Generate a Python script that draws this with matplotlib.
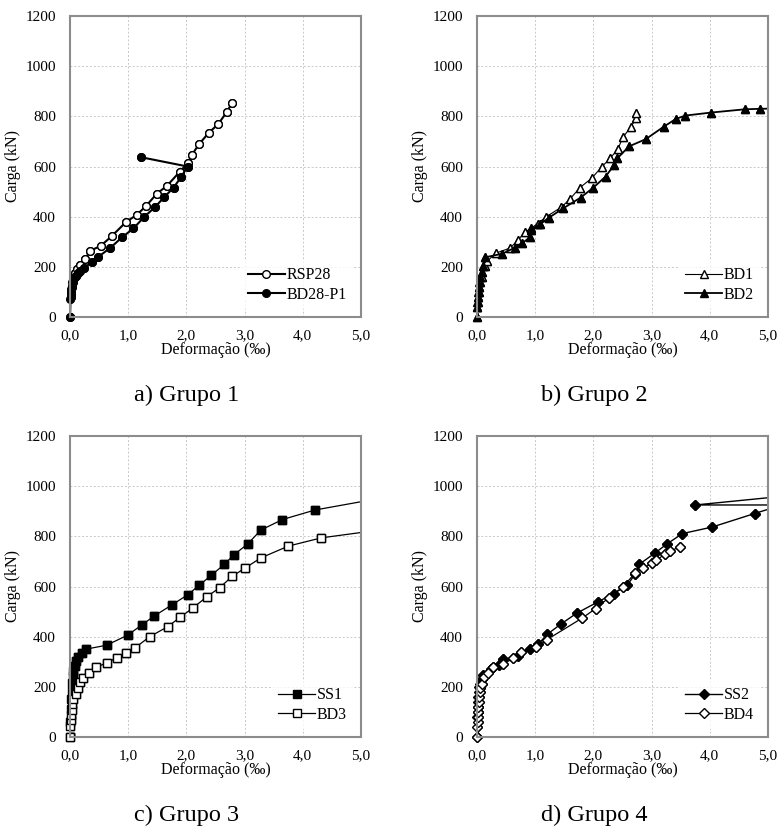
import matplotlib
matplotlib.use("Agg")
import matplotlib.pyplot as plt
from matplotlib.ticker import FuncFormatter

plt.rcParams['font.family'] = ['Liberation Serif', 'DejaVu Serif']

# Grupo 1
rsp28_x = [0, 0.01, 0.02, 0.03, 0.04, 0.06, 0.08, 0.12, 0.17, 0.26, 0.34, 0.53, 0.72, 0.96, 1.15,
           1.30, 1.49, 1.67, 1.89, 2.02, 2.09, 2.22, 2.38, 2.55, 2.69, 2.78]
rsp28_y = [0, 80, 100, 120, 140, 160, 175, 190, 207, 230, 263, 284, 323, 378, 408,
           441, 491, 524, 580, 613, 645, 690, 733, 770, 816, 852]
bd28_x = [0, 0.0, 0.01, 0.02, 0.03, 0.05, 0.07, 0.10, 0.14, 0.18, 0.24, 0.37, 0.48, 0.69, 0.89,
          1.09, 1.27, 1.46, 1.62, 1.78, 1.91, 2.02, 1.22]
bd28_y = [0, 70, 90, 110, 125, 140, 155, 165, 175, 185, 195, 218, 239, 275, 317,
          353, 398, 438, 478, 516, 558, 600, 637]

# Grupo 2
bd1_x = [0, 0.0, 0.01, 0.02, 0.03, 0.04, 0.06, 0.08, 0.13, 0.17, 0.33, 0.57, 0.71, 0.82, 0.93,
         1.04, 1.18, 1.45, 1.60, 1.77, 1.97, 2.15, 2.29, 2.42, 2.51, 2.64, 2.74, 2.73]
bd1_y = [0, 40, 60, 80, 100, 120, 140, 160, 202, 222, 255, 275, 308, 338, 354,
         372, 398, 438, 471, 516, 553, 600, 633, 670, 717, 757, 793, 815]
bd2_x = [0, 0.0, 0.0, 0.01, 0.02, 0.03, 0.04, 0.06, 0.08, 0.10, 0.14, 0.43, 0.65, 0.78, 0.91,
         0.93, 1.09, 1.23, 1.48, 1.78, 1.99, 2.21, 2.35, 2.41, 2.61, 2.90, 3.21, 3.42, 3.58,
         4.02, 4.60, 4.87, 5.30]
bd2_y = [0, 40, 60, 80, 100, 120, 140, 160, 180, 205, 238, 252, 276, 295, 318,
         348, 371, 395, 433, 476, 514, 560, 604, 632, 680, 709, 759, 790, 803,
         815, 828, 830, 832]

# Grupo 3
ss1_x = [0, 0.0, 0.01, 0.02, 0.03, 0.04, 0.05, 0.06, 0.08, 0.11, 0.14, 0.20, 0.27, 0.63, 0.99,
         1.23, 1.45, 1.76, 2.03, 2.22, 2.43, 2.65, 2.81, 3.05, 3.28, 3.65, 4.21, 5.60]
ss1_y = [0, 60, 110, 150, 183, 216, 242, 262, 285, 302, 319, 333, 350, 366, 406,
         446, 483, 528, 568, 605, 645, 688, 725, 769, 825, 867, 905, 963]
bd3_x = [0, 0.0, 0.01, 0.02, 0.03, 0.04, 0.06, 0.10, 0.13, 0.17, 0.23, 0.33, 0.45, 0.63, 0.80,
         0.96, 1.12, 1.37, 1.68, 1.89, 2.12, 2.35, 2.57, 2.79, 3.01, 3.28, 3.75, 4.32, 5.60]
bd3_y = [0, 43, 67, 89, 109, 130, 150, 173, 195, 219, 236, 256, 278, 296, 315,
         335, 356, 400, 440, 477, 516, 559, 595, 641, 674, 714, 761, 794, 834]

# Grupo 4
ss2_x = [0, 0.0, 0.01, 0.01, 0.02, 0.02, 0.03, 0.04, 0.05, 0.08, 0.11, 0.24, 0.37, 0.45, 0.71,
         0.91, 1.05, 1.21, 1.44, 1.71, 2.08, 2.35, 2.58, 2.72, 2.79, 3.05, 3.26, 3.53, 4.04,
         4.77, 6.00, 7.00, 3.75, 8.00]
ss2_y = [0, 80, 100, 120, 140, 160, 180, 200, 212, 230, 246, 270, 286, 309, 322,
         349, 370, 410, 450, 493, 539, 572, 605, 650, 689, 732, 769, 811, 837,
         891, 980, 1000, 925, 925]
bd4_x = [0, 0.0, 0.01, 0.01, 0.02, 0.02, 0.03, 0.04, 0.05, 0.06, 0.08, 0.12, 0.19, 0.27, 0.45,
         0.62, 0.75, 1.02, 1.20, 1.80, 2.04, 2.27, 2.51, 2.71, 2.85, 3.00, 3.08, 3.23, 3.31, 3.48]
bd4_y = [0, 40, 60, 80, 100, 120, 140, 160, 180, 195, 212, 238, 256, 280, 291,
         313, 339, 357, 388, 473, 512, 556, 599, 652, 672, 692, 705, 729, 742, 756]

captions = ["a) Grupo 1", "b) Grupo 2", "c) Grupo 3", "d) Grupo 4"]

fig = plt.figure(figsize=(7.8, 8.32), dpi=100)
W, H = 780, 832
boxes = [(70, 16), (477, 16), (70, 436), (477, 436)]
aw, ah = 291, 301

fmt = FuncFormatter(lambda v, p: f"{v:.1f}".replace(".", ","))


def make_axes(i):
    x0, y0 = boxes[i]
    ax = fig.add_axes([x0 / W, 1 - (y0 + ah) / H, aw / W, ah / H])
    ax.set_xlim(0, 5)
    ax.set_ylim(0, 1200)
    ax.set_xticks([0, 1, 2, 3, 4, 5])
    ax.set_yticks(range(0, 1201, 200))
    ax.xaxis.set_major_formatter(fmt)
    ax.tick_params(length=0, labelsize=11)
    ax.tick_params(axis='y', pad=10)
    ax.tick_params(axis='x', pad=9)
    ax.grid(True, color='#c8c8c8', linestyle=(0, (2, 2)), linewidth=0.7)
    ax.set_axisbelow(True)
    for s in ax.spines.values():
        s.set_color('#8c8c8c')
        s.set_linewidth(1.5)
    ax.set_ylabel("Carga (kN)", fontsize=11.5, labelpad=3)
    ax.set_xlabel("Deformação (‰)", fontsize=11.5, labelpad=0)
    fig.text((x0 + 117) / W, 1 - (y0 + 385) / H, captions[i],
             ha='center', va='baseline', fontsize=17.5)
    return ax


def series(ax, xs, ys, lw, marker, ms, fill, label):
    mew = 1.0
    ax.plot(xs, ys, color='black', lw=lw, marker=marker, ms=ms,
            mfc=fill, mec='black', mew=mew, label=label)
    # markers at the edge are drawn whole, as in the original
    inside = [(x, y) for x, y in zip(xs, ys) if x <= 5 and y <= 1200]
    ax.plot([p[0] for p in inside], [p[1] for p in inside], ls='none',
            marker=marker, ms=ms, mfc=fill, mec='black', mew=mew, clip_on=False)


def legend(ax):
    leg = ax.legend(loc='lower right', bbox_to_anchor=(1.0, 0.0), frameon=True,
                    fontsize=11.5, handlelength=2.3, handletextpad=0.1,
                    labelspacing=0.2, borderaxespad=0.5)
    leg.get_frame().set_facecolor('white')
    leg.get_frame().set_edgecolor('none')


ax = make_axes(0)
series(ax, rsp28_x, rsp28_y, 1.5, 'o', 5.5, 'white', "RSP28")
series(ax, bd28_x, bd28_y, 1.5, 'o', 5.5, 'black', "BD28-P1")
legend(ax)

ax = make_axes(1)
series(ax, bd1_x, bd1_y, 0.8, '^', 5.5, 'white', "BD1")
series(ax, bd2_x, bd2_y, 1.3, '^', 5.5, 'black', "BD2")
legend(ax)

ax = make_axes(2)
series(ax, ss1_x, ss1_y, 0.9, 's', 5.5, 'black', "SS1")
series(ax, bd3_x, bd3_y, 0.9, 's', 5.5, 'white', "BD3")
legend(ax)

ax = make_axes(3)
series(ax, ss2_x, ss2_y, 1.0, 'D', 5.5, 'black', "SS2")
series(ax, bd4_x, bd4_y, 0.9, 'D', 5.0, 'white', "BD4")
legend(ax)

fig.savefig("out.png", dpi=100)
